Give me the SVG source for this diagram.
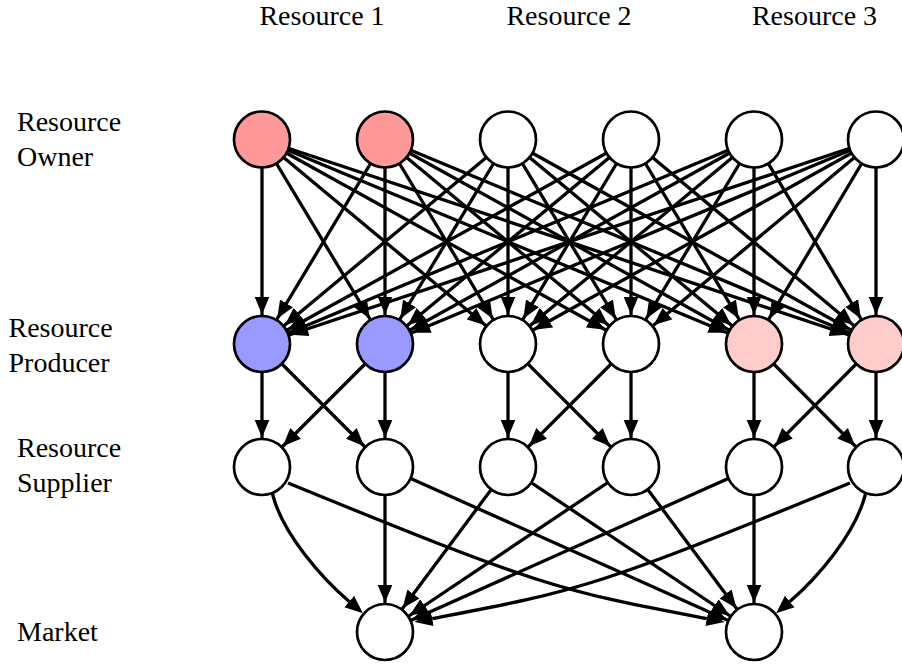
<svg xmlns="http://www.w3.org/2000/svg" width="902" height="667" viewBox="0 0 902 667">
<style>
.lbl{font-family:"Liberation Serif","Times New Roman",serif;font-size:28px;fill:#000}
.n{stroke:#000;stroke-width:2.7;fill:#fff}
.red{fill:#ff9999}
.blue{fill:#9999ff}
.pink{fill:#ffcccc}
.e line{stroke:#000;stroke-width:3.3;marker-end:url(#a)}
.e path{stroke:#000;stroke-width:3.3;fill:none;marker-end:url(#b)}
</style>
<defs>
<marker id="a" markerUnits="userSpaceOnUse" markerWidth="50" markerHeight="16" refX="47.5" refY="8" orient="auto"><path d="M0,0.5 L18,8 L0,15.5 z" fill="#000"/></marker>
<marker id="b" markerUnits="userSpaceOnUse" markerWidth="20" markerHeight="16" refX="0" refY="8" orient="auto"><path d="M0,0.5 L18,8 L0,15.5 z" fill="#000"/></marker>
</defs>
<rect width="902" height="667" fill="#fff"/>
<g id="labels">
<text class="lbl" x="322" y="25" text-anchor="middle">Resource 1</text>
<text class="lbl" x="569" y="25" text-anchor="middle">Resource 2</text>
<text class="lbl" x="814.5" y="25" text-anchor="middle">Resource 3</text>
<text class="lbl" x="17" y="131">Resource</text>
<text class="lbl" x="17" y="166">Owner</text>
<text class="lbl" x="8.5" y="336.5">Resource</text>
<text class="lbl" x="8.5" y="371.5">Producer</text>
<text class="lbl" x="17" y="456.5">Resource</text>
<text class="lbl" x="17" y="491.5">Supplier</text>
<text class="lbl" x="17" y="641">Market</text>
</g>
<g id="connectors" class="e">
<line x1="262" y1="139.5" x2="262" y2="344"/>
<line x1="262" y1="139.5" x2="385" y2="344"/>
<line x1="262" y1="139.5" x2="508" y2="344"/>
<line x1="262" y1="139.5" x2="631" y2="344"/>
<line x1="262" y1="139.5" x2="754" y2="344"/>
<line x1="262" y1="139.5" x2="876" y2="344"/>
<line x1="385" y1="139.5" x2="262" y2="344"/>
<line x1="385" y1="139.5" x2="385" y2="344"/>
<line x1="385" y1="139.5" x2="508" y2="344"/>
<line x1="385" y1="139.5" x2="631" y2="344"/>
<line x1="385" y1="139.5" x2="754" y2="344"/>
<line x1="385" y1="139.5" x2="876" y2="344"/>
<line x1="508" y1="139.5" x2="262" y2="344"/>
<line x1="508" y1="139.5" x2="385" y2="344"/>
<line x1="508" y1="139.5" x2="508" y2="344"/>
<line x1="508" y1="139.5" x2="631" y2="344"/>
<line x1="508" y1="139.5" x2="754" y2="344"/>
<line x1="508" y1="139.5" x2="876" y2="344"/>
<line x1="631" y1="139.5" x2="262" y2="344"/>
<line x1="631" y1="139.5" x2="385" y2="344"/>
<line x1="631" y1="139.5" x2="508" y2="344"/>
<line x1="631" y1="139.5" x2="631" y2="344"/>
<line x1="631" y1="139.5" x2="754" y2="344"/>
<line x1="631" y1="139.5" x2="876" y2="344"/>
<line x1="754" y1="139.5" x2="262" y2="344"/>
<line x1="754" y1="139.5" x2="385" y2="344"/>
<line x1="754" y1="139.5" x2="508" y2="344"/>
<line x1="754" y1="139.5" x2="631" y2="344"/>
<line x1="754" y1="139.5" x2="754" y2="344"/>
<line x1="754" y1="139.5" x2="876" y2="344"/>
<line x1="876" y1="139.5" x2="262" y2="344"/>
<line x1="876" y1="139.5" x2="385" y2="344"/>
<line x1="876" y1="139.5" x2="508" y2="344"/>
<line x1="876" y1="139.5" x2="631" y2="344"/>
<line x1="876" y1="139.5" x2="754" y2="344"/>
<line x1="876" y1="139.5" x2="876" y2="344"/>
<line x1="262" y1="344" x2="262" y2="467"/>
<line x1="262" y1="344" x2="385" y2="467"/>
<line x1="385" y1="344" x2="262" y2="467"/>
<line x1="385" y1="344" x2="385" y2="467"/>
<line x1="508" y1="344" x2="508" y2="467"/>
<line x1="508" y1="344" x2="631" y2="467"/>
<line x1="631" y1="344" x2="508" y2="467"/>
<line x1="631" y1="344" x2="631" y2="467"/>
<line x1="754" y1="344" x2="754" y2="467"/>
<line x1="754" y1="344" x2="876" y2="467"/>
<line x1="876" y1="344" x2="754" y2="467"/>
<line x1="876" y1="344" x2="876" y2="467"/>
<path d="M272.5,494 C282.5,534 322.5,578.8 349.2,601.5"/>
<path d="M288,483 C547,589 559.5,590.5 706.8,618.6"/>
<line x1="385" y1="467" x2="385" y2="632"/>
<line x1="385" y1="467" x2="754" y2="632"/>
<line x1="508" y1="467" x2="385" y2="632"/>
<line x1="508" y1="467" x2="754" y2="632"/>
<line x1="631" y1="467" x2="385" y2="632"/>
<line x1="631" y1="467" x2="754" y2="632"/>
<line x1="754" y1="467" x2="385" y2="632"/>
<line x1="754" y1="467" x2="754" y2="632"/>
<path d="M850,483 C591.5,589 579,590.5 432.2,618.6"/>
<path d="M865.5,494 C855.5,534 816.5,578.8 789.8,601.5"/>
</g>
<g id="owner1"><circle class="n red" cx="262" cy="139.5" r="28"/></g>
<g id="owner2"><circle class="n red" cx="385" cy="139.5" r="28"/></g>
<g id="owner3"><circle class="n" cx="508" cy="139.5" r="28"/></g>
<g id="owner4"><circle class="n" cx="631" cy="139.5" r="28"/></g>
<g id="owner5"><circle class="n" cx="754" cy="139.5" r="28"/></g>
<g id="owner6"><circle class="n" cx="876" cy="139.5" r="28"/></g>
<g id="producer1"><circle class="n blue" cx="262" cy="344" r="28"/></g>
<g id="producer2"><circle class="n blue" cx="385" cy="344" r="28"/></g>
<g id="producer3"><circle class="n" cx="508" cy="344" r="28"/></g>
<g id="producer4"><circle class="n" cx="631" cy="344" r="28"/></g>
<g id="producer5"><circle class="n pink" cx="754" cy="344" r="28"/></g>
<g id="producer6"><circle class="n pink" cx="876" cy="344" r="28"/></g>
<g id="supplier1"><circle class="n" cx="262" cy="467" r="28"/></g>
<g id="supplier2"><circle class="n" cx="385" cy="467" r="28"/></g>
<g id="supplier3"><circle class="n" cx="508" cy="467" r="28"/></g>
<g id="supplier4"><circle class="n" cx="631" cy="467" r="28"/></g>
<g id="supplier5"><circle class="n" cx="754" cy="467" r="28"/></g>
<g id="supplier6"><circle class="n" cx="876" cy="467" r="28"/></g>
<g id="market1"><circle class="n" cx="385" cy="632" r="28"/></g>
<g id="market2"><circle class="n" cx="754" cy="632" r="28"/></g>
</svg>
